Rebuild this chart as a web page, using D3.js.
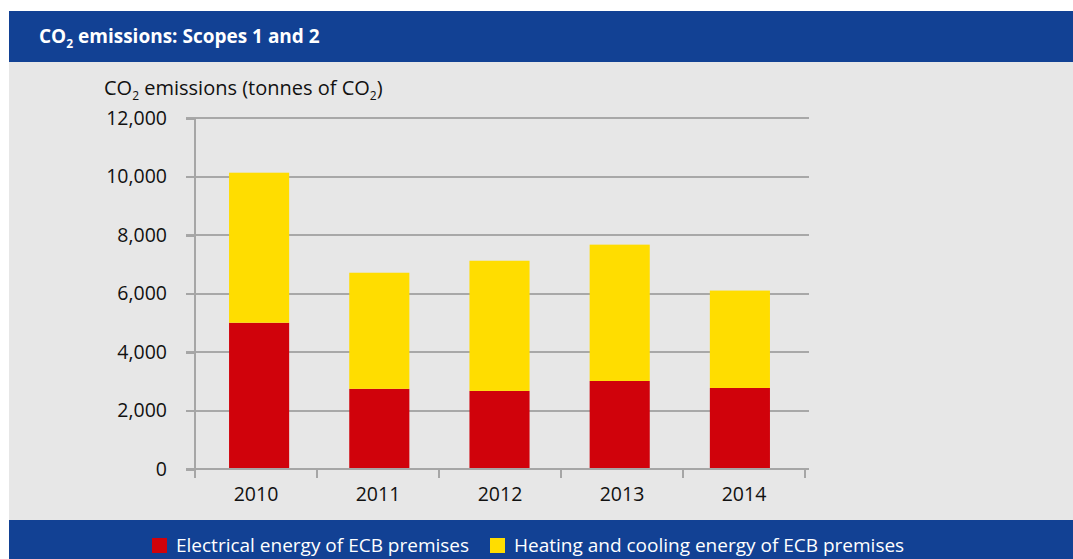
<!DOCTYPE html>
<html lang="en">
<head>
    <meta charset="UTF-8">
    <script src="https://d3js.org/d3.v7.min.js"></script>
    <title>CO2 emissions: Scopes 1 and 2</title>
    <style>
        body { margin: 0; background: #fff; }
        svg { display: block; font-family: "Open Sans", sans-serif; }
        .axis path, .axis line { stroke: #a6a6a6; stroke-width: 2; shape-rendering: crispEdges; }
        .grid line { stroke: #a8a8a8; stroke-width: 2; shape-rendering: crispEdges; }
    </style>
</head>
<body>
<svg id="chart"></svg>
<script>
    const years = ['2010', '2011', '2012', '2013', '2014'];
    const electrical = [5000, 2740, 2670, 3010, 2770];
    const heating = [5130, 3970, 4450, 4660, 3330];
    const yTicks = [0, 2000, 4000, 6000, 8000, 10000, 12000];
    const seriesNames = ['Electrical energy of ECB premises', 'Heating and cooling energy of ECB premises'];
    const seriesColors = ['#d0020b', '#ffdd00'];

    const W = 1073, H = 559;
    const svg = d3.select('#chart').attr('width', W).attr('height', H);

    // panel background + header/footer bands
    svg.append('rect').attr('x', 9).attr('y', 11).attr('width', W - 9).attr('height', H - 11).attr('fill', '#e7e7e7');
    svg.append('rect').attr('x', 9).attr('y', 11).attr('width', W - 9).attr('height', 51).attr('fill', '#124194');
    svg.append('rect').attr('x', 9).attr('y', 520).attr('width', W - 9).attr('height', H - 520).attr('fill', '#124194');

    // title with subscript
    const title = svg.append('text').attr('x', 39).attr('y', 43)
        .attr('fill', '#fff').style('font-size', '19px').style('font-weight', 'bold');
    title.append('tspan').text('CO');
    title.append('tspan').text('2').style('font-size', '12px').attr('dy', 5);
    title.append('tspan').text(' emissions: Scopes 1 and 2').attr('dy', -5);

    // axis bands and bar positions (bars sit a touch tighter than the axis bands)
    const xAxisBand = d3.scaleBand().domain(years).range([195, 805]);
    const x = d3.scaleBand().domain(years).range([199, 800]).paddingInner(0.5).paddingOuter(0.25);
    const y = d3.scaleLinear().domain([0, 12000]).range([469, 118]);

    // gridlines
    svg.append('g').attr('class', 'grid')
        .selectAll('line').data(yTicks.filter(d => d > 0)).enter()
        .append('line')
        .attr('x1', 186).attr('x2', 809)
        .attr('y1', d => y(d)).attr('y2', d => y(d));

    // stacked bars
    const rows = years.map((yr, i) => ({ year: yr, e: electrical[i], h: heating[i] }));
    const stack = d3.stack().keys(['e', 'h']);
    const layers = stack(rows);
    svg.append('g').selectAll('g').data(layers).enter()
        .append('g').attr('fill', (d, i) => seriesColors[i])
        .selectAll('rect').data(d => d).enter()
        .append('rect')
        .attr('x', d => x(d.data.year))
        .attr('width', x.bandwidth())
        .attr('y', d => y(d[1]))
        .attr('height', d => y(d[0]) - y(d[1]));

    // y axis
    const yAxis = svg.append('g').attr('class', 'axis').attr('transform', 'translate(195,0)')
        .call(d3.axisLeft(y).tickValues(yTicks).tickSize(9).tickPadding(19).tickFormat(d3.format(',')));
    yAxis.select('.domain').attr('d', `M0,${y(12000)}V${y(0) + 8}`);
    yAxis.selectAll('text').style('font-size', '19.5px').attr('fill', '#111').style('font-family', '"Open Sans", sans-serif');

    // x axis: ticks at band boundaries
    const xg = svg.append('g').attr('class', 'axis');
    xg.append('line').attr('x1', 186).attr('x2', 809).attr('y1', y(0)).attr('y2', y(0));
    const bounds = years.map(d => xAxisBand(d)).concat([805]);
    xg.selectAll('.bt').data(bounds).enter()
        .append('line').attr('class', 'bt')
        .attr('x1', d => d).attr('x2', d => d)
        .attr('y1', y(0)).attr('y2', y(0) + 9);
    svg.selectAll('.xl').data(years).enter()
        .append('text').attr('class', 'xl')
        .attr('x', d => xAxisBand(d) + xAxisBand.bandwidth() / 2)
        .attr('y', 501).attr('text-anchor', 'middle')
        .style('font-size', '19.5px').attr('fill', '#111').text(d => d);

    // y axis title
    const yt = svg.append('text').attr('x', 104).attr('y', 95).attr('fill', '#111').style('font-size', '20px');
    yt.append('tspan').text('CO');
    yt.append('tspan').text('2').style('font-size', '12px').attr('dy', 5);
    yt.append('tspan').text(' emissions (tonnes of CO').attr('dy', -5);
    yt.append('tspan').text('2').style('font-size', '12px').attr('dy', 5);
    yt.append('tspan').text(')').attr('dy', -5);

    // legend
    const legendX = [152, 490];
    const lg = svg.append('g').selectAll('g').data(seriesNames).enter()
        .append('g').attr('transform', (d, i) => `translate(${legendX[i]},538)`);
    lg.append('rect').attr('width', 15).attr('height', 15).attr('fill', (d, i) => seriesColors[i]);
    lg.append('text').attr('x', 24).attr('y', 14).attr('fill', '#fff').style('font-size', '19px').text(d => d);
</script>
</body>
</html>
